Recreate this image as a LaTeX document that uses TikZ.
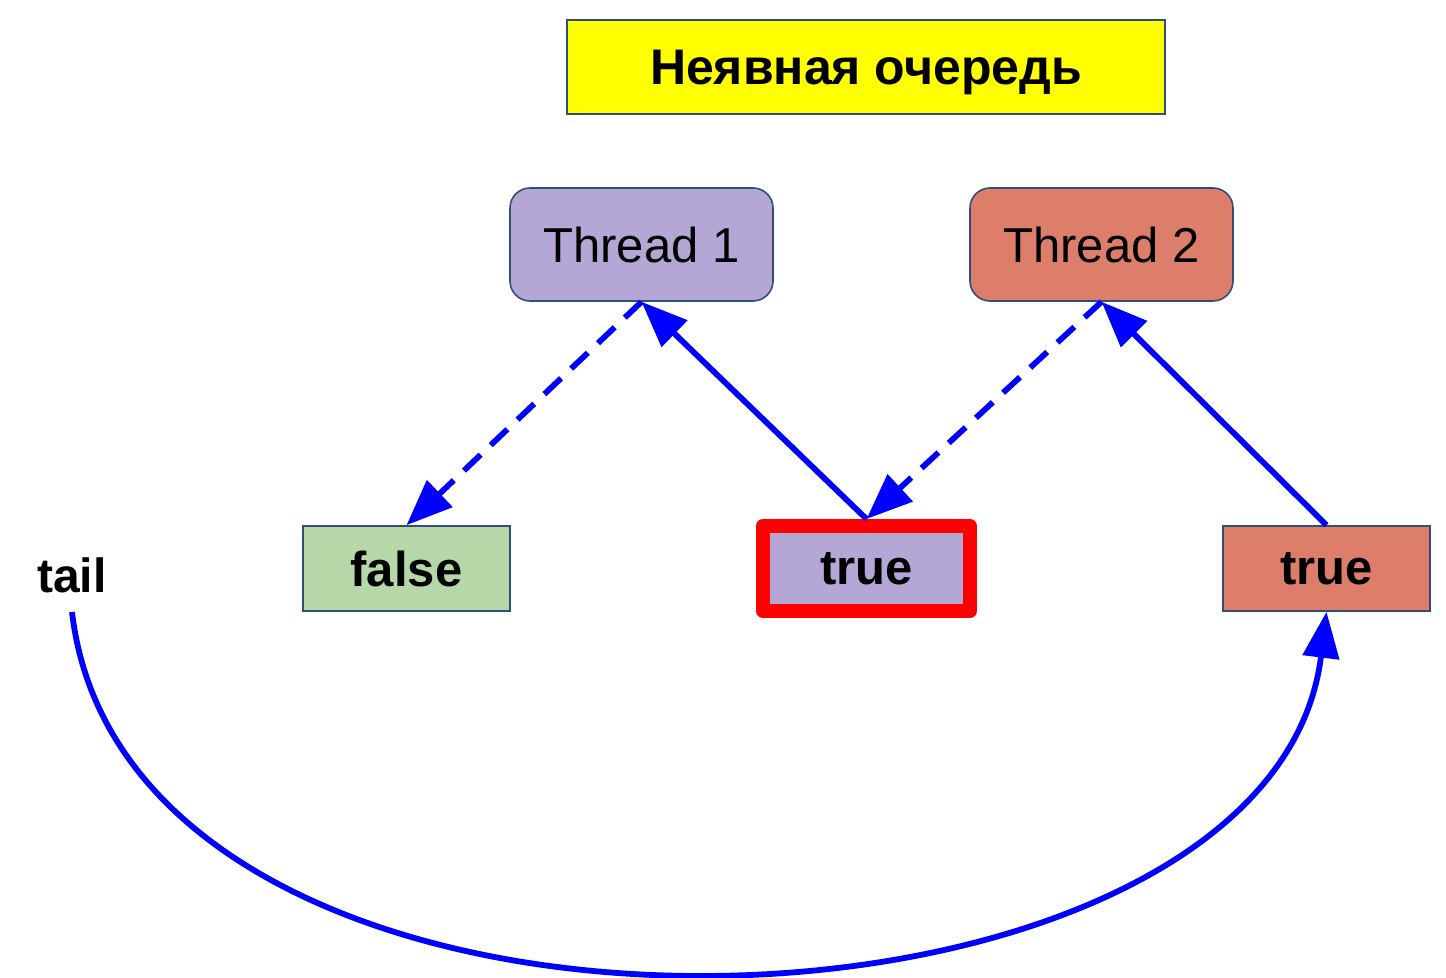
\documentclass[tikz,border=0pt]{standalone}
\usepackage{fontspec}
\setmainfont{Liberation Sans}
\usetikzlibrary{arrows.meta}
\definecolor{bluearrow}{HTML}{0000FF}
\definecolor{edgeblue}{HTML}{2F4F7A}
\definecolor{purplefill}{HTML}{B4A7D6}
\definecolor{redfill}{HTML}{DD7E6B}
\definecolor{greenfill}{HTML}{B6D7A8}
\definecolor{titlefill}{HTML}{FFFF00}
\definecolor{hlred}{HTML}{FF0000}
\tikzset{
  titlebox/.style={draw=edgeblue, line width=0.8pt, fill=titlefill, minimum width=299pt, minimum height=47pt, inner sep=0pt, text depth=0pt, font=\fontsize{25}{30}\selectfont\bfseries},
  threadbox/.style={draw=edgeblue, line width=0.8pt, rounded corners=10pt, minimum width=131.5pt, minimum height=56.5pt, inner sep=0pt, font=\fontsize{24.5}{29}\selectfont},
  valbox/.style={draw=edgeblue, line width=0.8pt, minimum width=103.5pt, minimum height=42.5pt, inner sep=0pt, font=\fontsize{24.5}{29}\selectfont\bfseries},
  hlbox/.style={valbox, draw=hlred, line width=7pt, line join=round},
  plainlabel/.style={inner sep=0pt, font=\fontsize{24}{29}\selectfont\bfseries},
  conn/.style={draw=bluearrow, line width=2.9pt, -{Triangle[length=23pt, width=18pt]}},
  dashconn/.style={conn, dash pattern=on 11.5pt off 7pt},
}
\begin{document}
\begin{tikzpicture}[x=0.5pt, y=-0.5pt]
\useasboundingbox (0,0) rectangle (1446,978);
\node[titlebox] (title) at (866,67) {Неявная очередь};
\node[threadbox, fill=purplefill] (t1) at (641.5,244.5) {Thread 1};
\node[threadbox, fill=redfill] (t2) at (1101.5,244.5) {Thread 2};
\node[valbox, fill=greenfill] (f) at (406.5,568.5) {false};
\node[hlbox, fill=purplefill] (m) at (866.5,568.5) {true};
\node[valbox, fill=redfill] (r) at (1326.5,568.5) {true};
\node[plainlabel] (tail) at (72,575) {tail};
\coordinate (tailstart) at (72,612);
\draw[dashconn] (t1.south) -- (f.north);
\draw[conn] (m.north) -- (t1.south);
\draw[dashconn] (t2.south) -- (m.north);
\draw[conn] (r.north) -- (t2.south);
\draw[conn] (tailstart) .. controls (130,1110) and (1270,1070) .. (r.south);
\end{tikzpicture}
\end{document}
